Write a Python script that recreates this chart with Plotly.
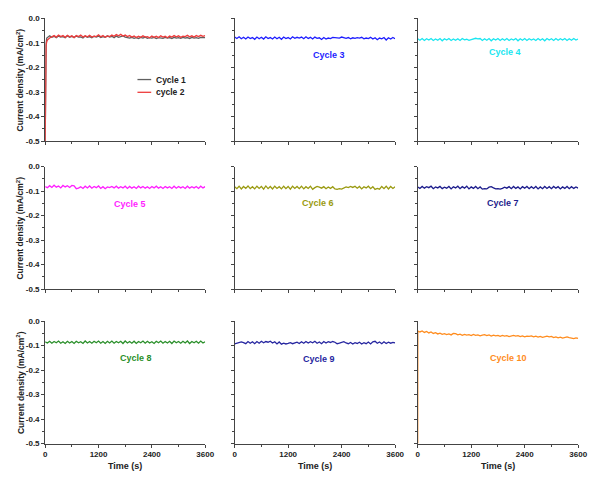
import plotly.graph_objects as go

# ---------------- data ----------------
T = list(range(0, 3601, 50))  # time grid (s)

ONSET_T_1 = [8, 20, 35]
ONSET_V_1 = [-0.20, -0.10, -0.080]
ONSET_T_2 = [8, 20, 35]
ONSET_V_2 = [-0.16, -0.11, -0.095]
ONSET_T_10 = [3]
ONSET_V_10 = [-0.040]

CYCLE_1 = [-0.500, -0.078, -0.071, -0.077, -0.073, -0.079, -0.072, -0.076, -0.074, -0.079,
           -0.071, -0.077, -0.073, -0.078, -0.072, -0.076, -0.075, -0.080, -0.072, -0.077,
           -0.074, -0.079, -0.073, -0.076, -0.072, -0.078, -0.074, -0.077, -0.071, -0.076,
           -0.073, -0.079, -0.072, -0.077, -0.075, -0.071, -0.076, -0.078, -0.080, -0.077,
           -0.081, -0.078, -0.082, -0.077, -0.080, -0.076, -0.081, -0.078, -0.080, -0.077,
           -0.082, -0.078, -0.079, -0.081, -0.077, -0.080, -0.078, -0.082, -0.077, -0.080,
           -0.078, -0.081, -0.077, -0.080, -0.078, -0.082, -0.077, -0.080, -0.078, -0.081,
           -0.077, -0.079, -0.078]
CYCLE_2 = [-0.500, -0.088, -0.080, -0.074, -0.070, -0.076, -0.068, -0.074, -0.070, -0.077,
           -0.069, -0.075, -0.071, -0.078, -0.070, -0.074, -0.068, -0.076, -0.071, -0.075,
           -0.069, -0.076, -0.072, -0.074, -0.067, -0.075, -0.070, -0.077, -0.071, -0.074,
           -0.068, -0.073, -0.066, -0.071, -0.065, -0.072, -0.068, -0.074, -0.070, -0.076,
           -0.072, -0.078, -0.073, -0.077, -0.071, -0.076, -0.074, -0.079, -0.072, -0.077,
           -0.073, -0.078, -0.071, -0.076, -0.073, -0.079, -0.072, -0.076, -0.070, -0.075,
           -0.071, -0.077, -0.072, -0.074, -0.069, -0.075, -0.071, -0.076, -0.070, -0.074,
           -0.069, -0.073, -0.070]
CYCLE_3 = [-0.076, -0.082, -0.075, -0.083, -0.077, -0.084, -0.076, -0.082, -0.078, -0.085,
           -0.076, -0.083, -0.077, -0.084, -0.075, -0.082, -0.078, -0.084, -0.076, -0.083,
           -0.077, -0.085, -0.076, -0.082, -0.078, -0.084, -0.075, -0.081, -0.077, -0.080,
           -0.076, -0.083, -0.075, -0.082, -0.077, -0.084, -0.076, -0.081, -0.079, -0.086,
           -0.078, -0.084, -0.080, -0.082, -0.077, -0.079, -0.078, -0.080, -0.076, -0.079,
           -0.081, -0.078, -0.083, -0.079, -0.081, -0.078, -0.080, -0.077, -0.083, -0.080,
           -0.082, -0.077, -0.084, -0.079, -0.087, -0.080, -0.083, -0.078, -0.088, -0.079,
           -0.084, -0.078, -0.083]
CYCLE_4 = [-0.083, -0.089, -0.082, -0.090, -0.083, -0.088, -0.082, -0.090, -0.084, -0.089,
           -0.082, -0.091, -0.083, -0.088, -0.082, -0.090, -0.084, -0.089, -0.083, -0.090,
           -0.082, -0.087, -0.085, -0.089, -0.086, -0.082, -0.081, -0.083, -0.082, -0.090,
           -0.083, -0.089, -0.082, -0.091, -0.083, -0.088, -0.082, -0.090, -0.083, -0.089,
           -0.082, -0.090, -0.084, -0.088, -0.082, -0.091, -0.083, -0.089, -0.082, -0.090,
           -0.083, -0.088, -0.084, -0.090, -0.082, -0.089, -0.083, -0.091, -0.082, -0.088,
           -0.083, -0.090, -0.082, -0.089, -0.083, -0.088, -0.082, -0.090, -0.083, -0.089,
           -0.082, -0.088, -0.084]
CYCLE_5 = [-0.082, -0.086, -0.078, -0.085, -0.076, -0.084, -0.079, -0.087, -0.077, -0.083,
           -0.078, -0.085, -0.077, -0.079, -0.090, -0.088, -0.082, -0.089, -0.080, -0.087,
           -0.079, -0.088, -0.081, -0.086, -0.079, -0.089, -0.082, -0.090, -0.083, -0.086,
           -0.081, -0.087, -0.080, -0.088, -0.082, -0.087, -0.080, -0.089, -0.081, -0.088,
           -0.082, -0.089, -0.080, -0.087, -0.081, -0.088, -0.082, -0.089, -0.081, -0.087,
           -0.080, -0.088, -0.082, -0.089, -0.081, -0.087, -0.082, -0.089, -0.080, -0.088,
           -0.081, -0.087, -0.082, -0.089, -0.080, -0.088, -0.082, -0.087, -0.081, -0.089,
           -0.080, -0.087, -0.082]
CYCLE_6 = [-0.082, -0.090, -0.080, -0.091, -0.081, -0.089, -0.079, -0.090, -0.082, -0.091,
           -0.080, -0.089, -0.081, -0.092, -0.079, -0.090, -0.081, -0.091, -0.080, -0.089,
           -0.082, -0.091, -0.080, -0.090, -0.081, -0.092, -0.080, -0.089, -0.081, -0.090,
           -0.080, -0.091, -0.082, -0.089, -0.080, -0.093, -0.086, -0.081, -0.084, -0.088,
           -0.082, -0.090, -0.083, -0.089, -0.082, -0.091, -0.093, -0.090, -0.092, -0.088,
           -0.083, -0.086, -0.081, -0.085, -0.080, -0.088, -0.081, -0.091, -0.082, -0.087,
           -0.080, -0.090, -0.082, -0.093, -0.089, -0.092, -0.081, -0.090, -0.080, -0.091,
           -0.081, -0.089, -0.082]
CYCLE_7 = [-0.083, -0.089, -0.081, -0.088, -0.082, -0.086, -0.080, -0.090, -0.083, -0.087,
           -0.081, -0.090, -0.084, -0.088, -0.081, -0.091, -0.082, -0.087, -0.080, -0.090,
           -0.082, -0.088, -0.080, -0.091, -0.083, -0.089, -0.081, -0.090, -0.083, -0.092,
           -0.090, -0.091, -0.084, -0.082, -0.087, -0.091, -0.090, -0.092, -0.089, -0.084,
           -0.088, -0.082, -0.090, -0.081, -0.089, -0.083, -0.091, -0.082, -0.088, -0.081,
           -0.090, -0.082, -0.089, -0.081, -0.091, -0.083, -0.090, -0.081, -0.089, -0.082,
           -0.090, -0.081, -0.088, -0.082, -0.091, -0.083, -0.089, -0.081, -0.090, -0.082,
           -0.089, -0.083, -0.088]
CYCLE_8 = [-0.084, -0.089, -0.082, -0.090, -0.083, -0.088, -0.081, -0.090, -0.084, -0.091,
           -0.082, -0.089, -0.083, -0.091, -0.082, -0.088, -0.084, -0.091, -0.081, -0.089,
           -0.083, -0.090, -0.082, -0.088, -0.081, -0.090, -0.083, -0.091, -0.082, -0.089,
           -0.081, -0.090, -0.083, -0.088, -0.082, -0.091, -0.081, -0.089, -0.083, -0.090,
           -0.082, -0.091, -0.083, -0.088, -0.081, -0.090, -0.082, -0.089, -0.084, -0.091,
           -0.082, -0.088, -0.081, -0.090, -0.083, -0.089, -0.082, -0.091, -0.081, -0.088,
           -0.083, -0.090, -0.082, -0.089, -0.081, -0.091, -0.083, -0.088, -0.082, -0.090,
           -0.081, -0.089, -0.084]
CYCLE_9 = [-0.093, -0.091, -0.089, -0.085, -0.088, -0.092, -0.083, -0.090, -0.084, -0.092,
           -0.083, -0.090, -0.082, -0.088, -0.083, -0.086, -0.082, -0.089, -0.084, -0.093,
           -0.085, -0.094, -0.090, -0.093, -0.091, -0.088, -0.092, -0.090, -0.086, -0.091,
           -0.084, -0.090, -0.083, -0.089, -0.084, -0.088, -0.082, -0.090, -0.085, -0.092,
           -0.083, -0.089, -0.084, -0.087, -0.083, -0.086, -0.092, -0.090, -0.086, -0.084,
           -0.089, -0.092, -0.087, -0.093, -0.088, -0.091, -0.086, -0.093, -0.088, -0.092,
           -0.085, -0.093, -0.084, -0.082, -0.090, -0.085, -0.092, -0.084, -0.091, -0.086,
           -0.090, -0.087, -0.089]
CYCLE_10 = [-0.500, -0.044, -0.040, -0.046, -0.042, -0.048, -0.044, -0.050, -0.047, -0.052,
            -0.049, -0.054, -0.051, -0.055, -0.052, -0.056, -0.050, -0.051, -0.056, -0.053,
            -0.058, -0.054, -0.057, -0.055, -0.059, -0.054, -0.058, -0.056, -0.060, -0.057,
            -0.055, -0.059, -0.056, -0.061, -0.057, -0.060, -0.058, -0.062, -0.058, -0.061,
            -0.059, -0.063, -0.060, -0.058, -0.061, -0.059, -0.063, -0.060, -0.064, -0.061,
            -0.062, -0.060, -0.064, -0.061, -0.065, -0.062, -0.066, -0.063, -0.061, -0.064,
            -0.062, -0.067, -0.064, -0.068, -0.065, -0.069, -0.066, -0.064, -0.067, -0.068,
            -0.071, -0.068, -0.070]

X_TICKS = [0, 1200, 2400, 3600]
Y_TICKS = [0.0, -0.1, -0.2, -0.3, -0.4, -0.5]
Y_TICK_TEXT = ["0.0", "-0.1", "-0.2", "-0.3", "-0.4", "-0.5"]

COLORS = {1: "#606060", 2: "#ee3b3b", 3: "#1e1eff", 4: "#19e6f0", 5: "#ff1eff",
          6: "#9a9a10", 7: "#1c1c8c", 8: "#2a8f2a", 9: "#2626a0", 10: "#ff8c1e"}

# ---------------- layout ----------------
W, H = 597, 477
COL_PX = [(44, 207), (237, 400.5), (423.5, 587)]
ROW_PX = [(14.7, 139.7), (165.7, 290.7), (323.3, 448.0)]
FONT = "Liberation Sans, Arial, sans-serif"

def xd(c):
    a, b = COL_PX[c]
    return [a / W, b / W]

def yd(r):
    t, b = ROW_PX[r]
    return [1 - b / H, 1 - t / H]

fig = go.Figure()

def series(n):
    vals = {1: CYCLE_1, 2: CYCLE_2, 3: CYCLE_3, 4: CYCLE_4, 5: CYCLE_5,
            6: CYCLE_6, 7: CYCLE_7, 8: CYCLE_8, 9: CYCLE_9, 10: CYCLE_10}[n]
    onset = {1: (ONSET_T_1, ONSET_V_1), 2: (ONSET_T_2, ONSET_V_2),
             10: (ONSET_T_10, ONSET_V_10)}.get(n)
    if onset:
        return [T[0]] + onset[0] + T[1:], [vals[0]] + onset[1] + vals[1:]
    return T, vals

panel_of = {1: 0, 2: 0, 3: 1, 4: 2, 5: 3, 6: 4, 7: 5, 8: 6, 9: 7, 10: 8}
legend_names = {1: "Cycle 1", 2: "cycle 2"}

for n in range(1, 11):
    p = panel_of[n]
    x, y = series(n)
    sfx = "" if p == 0 else str(p + 1)
    fig.add_trace(go.Scatter(
        x=x, y=y, mode="lines", line=dict(color=COLORS[n], width=1.3),
        xaxis="x" + sfx, yaxis="y" + sfx,
        name=legend_names.get(n, f"Cycle {n}"), showlegend=False))

axis_common = dict(showline=True, linecolor="#444", linewidth=1, ticks="outside",
                   tickcolor="#444", ticklen=3, tickwidth=1, showgrid=False,
                   zeroline=False, tickfont=dict(family=FONT, size=8, color="#222", weight="bold"))

for p in range(9):
    r, c = divmod(p, 3)
    sfx = "" if p == 0 else str(p + 1)
    fig.layout["xaxis" + sfx] = dict(
        axis_common, domain=xd(c), range=[0, 3600], anchor="y" + sfx,
        tickvals=X_TICKS, showticklabels=(r == 2),
        minor=dict(dtick=600, tick0=0, ticks="outside", ticklen=2, tickcolor="#444"))
    fig.layout["yaxis" + sfx] = dict(
        axis_common, domain=yd(r), range=[-0.5, 0], anchor="x" + sfx,
        tickvals=Y_TICKS, ticktext=Y_TICK_TEXT, showticklabels=(c == 0),
        minor=dict(dtick=0.05, tick0=0, ticks="outside", ticklen=2, tickcolor="#444"))

annotations = []
# cycle labels (fractional positions inside each panel)
label_pos = {3: (1, 0.587, 0.70), 4: (2, 0.547, 0.725), 5: (3, 0.528, 0.694),
             6: (4, 0.52, 0.70), 7: (5, 0.529, 0.70), 8: (6, 0.57, 0.698),
             9: (7, 0.526, 0.69), 10: (8, 0.566, 0.698)}
for n, (p, fx, fy) in label_pos.items():
    r, c = divmod(p, 3)
    x0, x1 = xd(c)
    y0, y1 = yd(r)
    annotations.append(dict(text=f"Cycle {n}", xref="paper", yref="paper",
                            x=x0 + fx * (x1 - x0), y=y0 + fy * (y1 - y0),
                            showarrow=False, xanchor="center", yanchor="middle",
                            font=dict(family=FONT, size=9, color=COLORS[n], weight="bold")))
# y axis titles
for r in range(3):
    y0, y1 = yd(r)
    annotations.append(dict(text="Current density (mA/cm<sup>2</sup>)", textangle=-90,
                            xref="paper", yref="paper", x=19 / W, y=(y0 + y1) / 2,
                            showarrow=False, xanchor="center", yanchor="middle",
                            font=dict(family=FONT, size=8.5, color="#222", weight="bold")))
# x axis titles
for c in range(3):
    x0, x1 = xd(c)
    annotations.append(dict(text="Time (s)", xref="paper", yref="paper",
                            x=(x0 + x1) / 2, y=1 - 471 / H,
                            showarrow=False, xanchor="center", yanchor="middle",
                            font=dict(family=FONT, size=9, color="#222", weight="bold")))

# compact legend for panel 1 (line samples + labels)
shapes = []
LEGEND_ITEMS = [(1, "Cycle 1", 77), (2, "cycle 2", 90)]
for n, label, ypx in LEGEND_ITEMS:
    shapes.append(dict(type="line", xref="paper", yref="paper",
                       x0=138 / W, x1=152 / W, y0=1 - ypx / H, y1=1 - ypx / H,
                       line=dict(color=COLORS[n], width=1.3)))
    annotations.append(dict(text=label, xref="paper", yref="paper",
                            x=155 / W, y=1 - ypx / H, showarrow=False,
                            xanchor="left", yanchor="middle",
                            font=dict(family=FONT, size=8.5, color="#222", weight="bold")))

fig.update_layout(
    width=W, height=H, margin=dict(l=0, r=0, t=0, b=0),
    paper_bgcolor="white", plot_bgcolor="white",
    annotations=annotations, shapes=shapes, showlegend=False,
)

fig.write_html("out.html")
